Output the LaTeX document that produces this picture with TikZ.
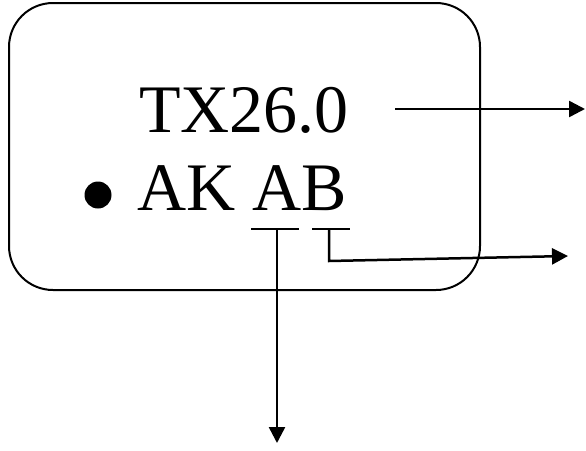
\documentclass[tikz,border=0pt]{standalone}
\usepackage{fontspec}
\setmainfont{Liberation Serif}
\usetikzlibrary{arrows.meta}
\begin{document}
\begin{tikzpicture}[x=1pt,y=-1pt,
  lbl/.style={inner sep=0pt,anchor=base west,font=\fontsize{68}{80}\selectfont},
  conn/.style={line width=2.5pt},
  arr/.style={conn,-{Triangle[length=16pt,width=16pt]}},
  frame/.style={draw,line width=2pt,rounded corners=44pt}]
\useasboundingbox (0,0) rectangle (586,450);
\draw[frame] (9,3) rectangle (480,290);
\node[lbl] (tx) at (139,132) {TX26.0};
\node[lbl] (ak) at (137,210) {AK AB};
\fill (98,195) circle (13.5);
% right arrow from TX26.0
\coordinate (t1) at (395,109);
\coordinate (t2) at (585,109);
\draw[arr] (t1) -- (t2);
% bracket under B
\coordinate (b1) at (312,229);
\coordinate (b2) at (350,229);
\coordinate (b3) at (329,229);
\coordinate (b4) at (329,261);
\coordinate (b5) at (568,256);
\draw[conn] (b1) -- (b2);
\draw[arr] (b3) -- (b4) -- (b5);
% bracket under A
\coordinate (a1) at (251,229);
\coordinate (a2) at (299,229);
\coordinate (a3) at (277,229);
\coordinate (a4) at (277,443);
\draw[conn] (a1) -- (a2);
\draw[arr] (a3) -- (a4);
\end{tikzpicture}
\end{document}
